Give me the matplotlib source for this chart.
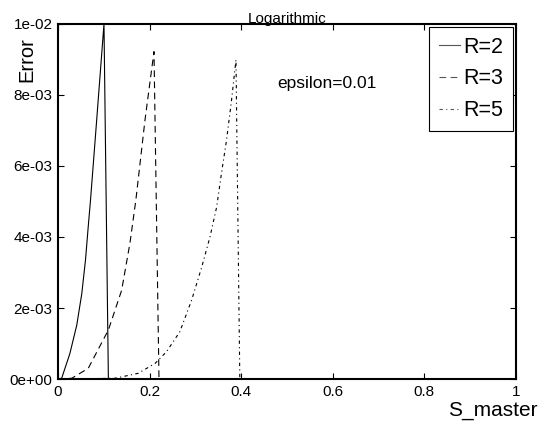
import matplotlib
matplotlib.use("Agg")
import matplotlib.pyplot as plt
from matplotlib.ticker import FormatStrFormatter

plt.rcParams['font.family'] = ['Liberation Sans', 'DejaVu Sans']

# values
s_r2 = [0, 0.008, 0.026, 0.041, 0.052, 0.060, 0.066, 0.071, 0.0845, 0.1004, 0.110]
err_r2 = [0, 0.00002, 0.00072, 0.00152, 0.00241, 0.00335, 0.00429, 0.00504, 0.0073, 0.0100, 0]

s_r3 = [0, 0.030, 0.066, 0.110, 0.139, 0.157, 0.170, 0.190, 0.2096, 0.2205]
err_r3 = [0, 0.00002, 0.0003, 0.00138, 0.0025, 0.00382, 0.00504, 0.0073, 0.00922, 0]

s_r5 = [0, 0.124, 0.175, 0.212, 0.237, 0.266, 0.292, 0.314, 0.332, 0.3465,
        0.357, 0.368, 0.379, 0.3886, 0.397]
err_r5 = [0, 0.00002, 0.00016, 0.00044, 0.00077, 0.00133, 0.00223, 0.00316, 0.00401,
          0.00485, 0.0058, 0.00673, 0.00786, 0.00899, 0]

labels = ["R=2", "R=3", "R=5"]
x_ticks = [0, 0.2, 0.4, 0.6, 0.8, 1]
x_ticklabels = ["0", "0.2", "0.4", "0.6", "0.8", "1"]
y_ticks = [0, 0.002, 0.004, 0.006, 0.008, 0.01]

fig = plt.figure(figsize=(5.39, 4.23), dpi=100)
ax = fig.add_axes([0.1076, 0.104, 0.8497, 0.8393])

ax.plot(s_r2, err_r2, color="black", lw=0.8, linestyle="-", label=labels[0])
ax.plot(s_r3, err_r3, color="black", lw=0.8, dashes=(6, 4), label=labels[1])
ax.plot(s_r5, err_r5, color="black", lw=0.8, dashes=(3, 3, 1, 3), label=labels[2])

ax.set_xlim(0, 1)
ax.set_ylim(0, 0.01)
ax.set_xticks(x_ticks)
ax.set_xticklabels(x_ticklabels)
ax.set_yticks(y_ticks)
ax.yaxis.set_major_formatter(FormatStrFormatter('%.0e'))
ax.tick_params(direction="in", top=True, right=True, length=4, width=0.8,
               labelsize=11, pad=4)
for sp in ax.spines.values():
    sp.set_linewidth(1.5)

ax.text(0.478, 0.00832, "epsilon=0.01", fontsize=12.5, va="center", ha="left")
ax.set_title("Logarithmic", fontsize=11, pad=0.5)

# y label sits high, just under the top tick label
fig.text(27 / 539, 1 - 60 / 423, "Error", rotation=90, fontsize=14.5,
         ha="center", va="center")
fig.text(538 / 539, 1 - 410 / 423, "S_master", fontsize=15,
         ha="right", va="center")

leg = ax.legend(loc="upper right", bbox_to_anchor=(513 / 539, 1 - 27 / 423),
                bbox_transform=fig.transFigure, fontsize=15.5, frameon=True,
                fancybox=False, framealpha=1, edgecolor="black",
                handlelength=1.0, handletextpad=0.15, labelspacing=0.5,
                borderpad=0.45, borderaxespad=0)
leg.get_frame().set_linewidth(0.8)
for h in leg.get_lines():
    h.set_color("#555555")

fig.savefig("out.png", dpi=100)
